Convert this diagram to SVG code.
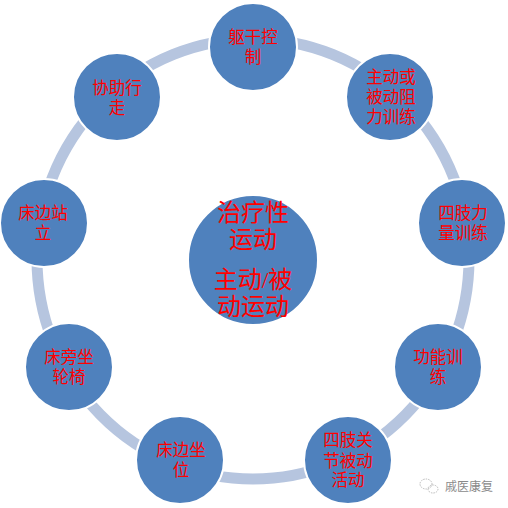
<svg xmlns="http://www.w3.org/2000/svg" width="508" height="508" viewBox="0 0 508 508">
<style>
.node{fill:#4F81BD;stroke:#FFFFFF;stroke-width:2}
.t{fill:#FF0000;font-family:"Liberation Serif","Noto Sans CJK SC",serif;font-size:16.5px;text-anchor:middle}
.tc{fill:#FF0000;font-family:"Liberation Serif","Noto Sans CJK SC",serif;font-size:24px;text-anchor:middle}
.ring{fill:none;stroke:#B6C5DF;stroke-width:11}
.wm{fill:#8A8A8A;font-family:"Noto Sans CJK SC",sans-serif;font-size:12px}
</style>
<rect width="508" height="508" fill="#FFFFFF"/>
<g id="connectors">
<ellipse class="ring" cx="253" cy="259" rx="216" ry="220"/>
</g>
<g id="center">
<circle class="node" cx="253" cy="260" r="65"/>
<text class="tc" x="253" y="221">治疗性</text>
<text class="tc" x="253" y="248">运动</text>
<text class="tc" x="253" y="288">主动/被</text>
<text class="tc" x="253" y="315">动运动</text>
</g>
<g id="n1">
<circle class="node" cx="253" cy="47" r="44"/>
<text class="t" x="253" y="43">躯干控</text>
<text class="t" x="253" y="63">制</text>
</g>
<g id="n2">
<circle class="node" cx="390" cy="97" r="44"/>
<text class="t" x="391" y="83">主动或</text>
<text class="t" x="391" y="103">被动阻</text>
<text class="t" x="391" y="123">力训练</text>
</g>
<g id="n3">
<circle class="node" cx="462" cy="223" r="44"/>
<text class="t" x="463" y="219">四肢力</text>
<text class="t" x="463" y="239">量训练</text>
</g>
<g id="n4">
<circle class="node" cx="438" cy="367" r="44"/>
<text class="t" x="438" y="363">功能训</text>
<text class="t" x="438" y="383">练</text>
</g>
<g id="n5">
<circle class="node" cx="348" cy="460" r="44"/>
<text class="t" x="348" y="446">四肢关</text>
<text class="t" x="348" y="467">节被动</text>
<text class="t" x="348" y="486">活动</text>
</g>
<g id="n6">
<circle class="node" cx="180" cy="460" r="44"/>
<text class="t" x="181" y="456">床边坐</text>
<text class="t" x="181" y="476">位</text>
</g>
<g id="n7">
<circle class="node" cx="69" cy="367" r="44"/>
<text class="t" x="69" y="363">床旁坐</text>
<text class="t" x="69" y="383">轮椅</text>
</g>
<g id="n8">
<circle class="node" cx="44" cy="223" r="44"/>
<text class="t" x="43" y="219">床边站</text>
<text class="t" x="43" y="239">立</text>
</g>
<g id="n9">
<circle class="node" cx="117" cy="97" r="44"/>
<text class="t" x="117" y="94">协助行</text>
<text class="t" x="117" y="114">走</text>
</g>
<g id="watermark">
<ellipse cx="426" cy="484" rx="6" ry="5" fill="none" stroke="#BBBBBB" stroke-width="1" stroke-dasharray="1.5 1"/>
<ellipse cx="433" cy="489" rx="5" ry="4" fill="none" stroke="#BBBBBB" stroke-width="1" stroke-dasharray="1.5 1"/>
<text class="wm" x="445" y="491">戚医康复</text>
</g>
</svg>
